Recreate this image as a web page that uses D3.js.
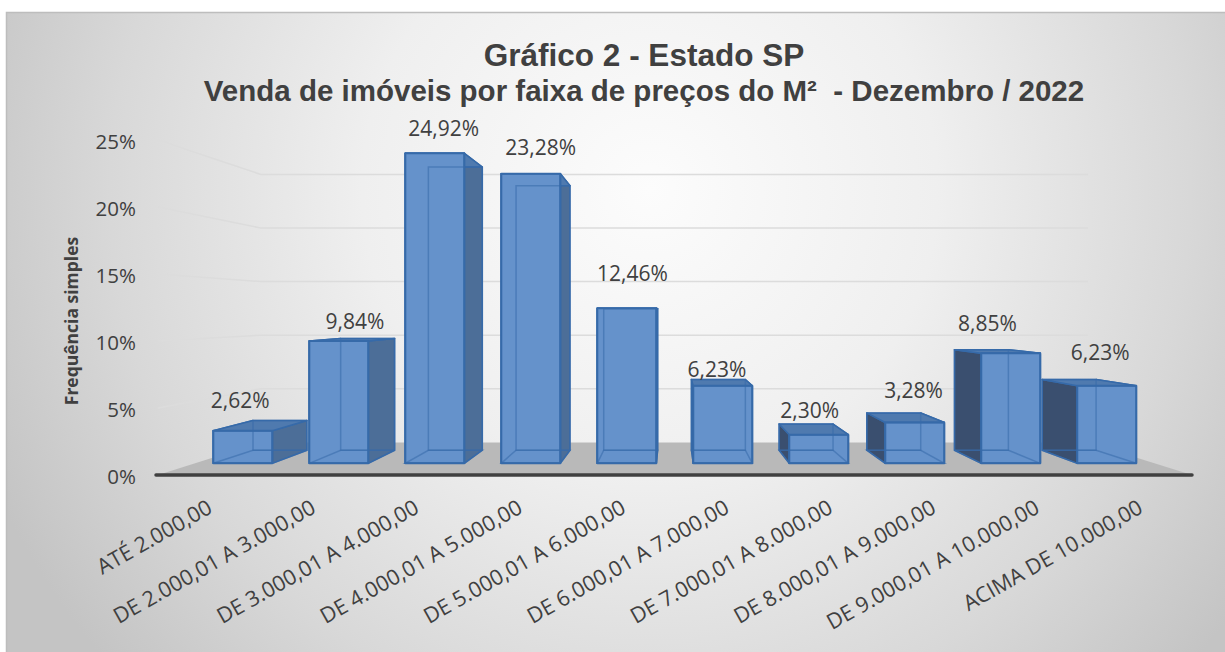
<!DOCTYPE html>
<html>
<head>
<meta charset="utf-8">
<script src="https://cdn.jsdelivr.net/npm/d3@7"></script>
<style>
  html, body { margin: 0; padding: 0; background: #ffffff; }
  svg { display: block; }
</style>
</head>
<body>
<div id="chart"></div>
<script>
const categories = [
  "ATÉ 2.000,00", "DE 2.000,01 A 3.000,00", "DE 3.000,01 A 4.000,00",
  "DE 4.000,01 A 5.000,00", "DE 5.000,01 A 6.000,00", "DE 6.000,01 A 7.000,00",
  "DE 7.000,01 A 8.000,00", "DE 8.000,01 A 9.000,00", "DE 9.000,01 A 10.000,00",
  "ACIMA DE 10.000,00"
];
const frequencies = [2.62, 9.84, 24.92, 23.28, 12.46, 6.23, 2.30, 3.28, 8.85, 6.23];
const yTicks = [0, 5, 10, 15, 20, 25];

const WIDTH = 1225;
const HEIGHT = 652;
const VANISH_X = 672;
const VANISH_Y = 312;
// how far each plane sits towards the vanishing point
const DEPTH_WALL = 0.2;
const DEPTH_BAR_FRONT = 0.0716;
const DEPTH_BAR_BACK = 0.152;

const FILL_BAR = "#6592cb";
const STROKE_BAR = "#366aa9";
const TEXT_COLOR = "#404040";
const FONT_BODY = "'Open Sans', sans-serif";
const FONT_TITLE = "'Liberation Sans', sans-serif";

// data labels were dragged by hand in the original, so each has its own nudge
const labelNudges = [
  [-20, 3], [3, 6], [0, -2], [5, -4], [5, -12], [-5, 13], [-4, 9], [8, 0], [-10, -4], [11, -4],
];

const x = d3.scaleBand().domain(categories).range([158, 1192]).paddingInner(0.385).paddingOuter(0.1925);
const y = d3.scaleLinear().domain([0, 25]).range([475, 140]);

function project(px, value, depth) {
  return [
    px + (VANISH_X - px) * depth,
    y(value) + (VANISH_Y - y(value)) * depth,
  ];
}

function pathOf(points) {
  return d3.line()(points) + "Z";
}

const svg = d3.select("#chart").append("svg").attr("width", WIDTH).attr("height", HEIGHT);
const defs = svg.append("defs");

const bgGradient = defs.append("radialGradient")
  .attr("id", "bg")
  .attr("gradientUnits", "userSpaceOnUse")
  .attr("cx", 650).attr("cy", 190).attr("r", 720);
bgGradient.append("stop").attr("offset", "0").attr("stop-color", "#fcfcfc");
bgGradient.append("stop").attr("offset", "0.4").attr("stop-color", "#efefef");
bgGradient.append("stop").attr("offset", "0.75").attr("stop-color", "#d8d8d8");
bgGradient.append("stop").attr("offset", "1").attr("stop-color", "#c4c4c4");

svg.append("rect")
  .attr("x", 6).attr("y", 12).attr("width", WIDTH - 6).attr("height", HEIGHT - 12)
  .attr("fill", "url(#bg)");
svg.append("path")
  .attr("d", `M6.5,${HEIGHT}V12.5H${WIDTH}`)
  .attr("fill", "none").attr("stroke", "#bdbdbd").attr("stroke-width", 1.5);

// floor
const [xLeft, xRight] = x.range();
svg.append("path")
  .attr("d", pathOf([
    project(xLeft, 0, 0), project(xRight, 0, 0),
    project(xRight, 0, DEPTH_WALL), project(xLeft, 0, DEPTH_WALL),
  ]))
  .attr("fill", "#b9b9b9");

// gridlines run along the side wall, then across the back wall
svg.append("g").selectAll("path")
  .data(yTicks.filter((tick) => tick > 0))
  .join("path")
  .attr("d", (tick) => d3.line()([
    project(xLeft, tick, 0), project(xLeft, tick, DEPTH_WALL), project(xRight, tick, DEPTH_WALL),
  ]))
  .attr("fill", "none")
  .attr("stroke", "#dcdcdc")
  .attr("stroke-width", 1.5);

function barFaces(category, value) {
  const left = x(category);
  const right = left + x.bandwidth();
  const f = DEPTH_BAR_FRONT;
  const b = DEPTH_BAR_BACK;
  return {
    back: [project(left, 0, b), project(right, 0, b), project(right, value, b), project(left, value, b)],
    left: [project(left, 0, f), project(left, value, f), project(left, value, b), project(left, 0, b)],
    right: [project(right, 0, f), project(right, value, f), project(right, value, b), project(right, 0, b)],
    top: [project(left, value, f), project(right, value, f), project(right, value, b), project(left, value, b)],
    floor: [project(left, 0, f), project(right, 0, f), project(right, 0, b), project(left, 0, b)],
    front: [project(left, 0, f), project(right, 0, f), project(right, value, f), project(left, value, f)],
  };
}

const barData = categories.map((category, index) => ({
  category,
  value: frequencies[index],
  nudge: labelNudges[index],
}));

const bars = svg.append("g").selectAll("g").data(barData).join("g");

// outer faces first, the front then hides whatever lies behind it
const solidFaces = [
  { key: "left", fill: "#3a4f6f" },
  { key: "right", fill: "#4c6e98" },
  { key: "top", fill: "#4f7aaf" },
  { key: "front", fill: FILL_BAR },
];

solidFaces.forEach((face) => {
  bars.append("path")
    .attr("d", (d) => pathOf(barFaces(d.category, d.value)[face.key]))
    .attr("fill", face.fill)
    .attr("stroke", STROKE_BAR)
    .attr("stroke-width", 1.5)
    .attr("stroke-linejoin", "round");
});

// the bars are see-through in the original: hidden edges still show on the front
["back", "floor"].forEach((key) => {
  bars.append("path")
    .attr("d", (d) => pathOf(barFaces(d.category, d.value)[key]))
    .attr("fill", "none")
    .attr("stroke", STROKE_BAR)
    .attr("stroke-opacity", 0.55)
    .attr("stroke-width", 1.5);
});

bars.append("path")
  .attr("d", (d) => pathOf(barFaces(d.category, d.value).front))
  .attr("fill", "none")
  .attr("stroke", STROKE_BAR)
  .attr("stroke-width", 2)
  .attr("stroke-linejoin", "round");

// axis baseline
svg.append("line")
  .attr("x1", xLeft - 2).attr("x2", xRight)
  .attr("y1", y(0)).attr("y2", y(0))
  .attr("stroke", "#404040")
  .attr("stroke-width", 3.5)
  .attr("stroke-linecap", "round");

// y tick labels
svg.append("g").selectAll("text")
  .data(yTicks)
  .join("text")
  .attr("x", 136)
  .attr("y", (tick) => y(tick) + 2)
  .attr("dy", "0.35em")
  .attr("text-anchor", "end")
  .attr("font-family", FONT_BODY)
  .attr("font-size", 20.5)
  .attr("fill", TEXT_COLOR)
  .text((tick) => `${tick}%`);

// value labels sit above the highest point of each bar
svg.append("g").selectAll("text")
  .data(barData)
  .join("text")
  .attr("x", (d) => {
    const faces = barFaces(d.category, d.value);
    const xs = [...faces.front, ...faces.back].map((p) => p[0]);
    return (d3.min(xs) + d3.max(xs)) / 2 + d.nudge[0];
  })
  .attr("y", (d) => {
    const faces = barFaces(d.category, d.value);
    return d3.min([...faces.front, ...faces.back], (p) => p[1]) - 15 + d.nudge[1];
  })
  .attr("text-anchor", "middle")
  .attr("font-family", FONT_BODY)
  .attr("font-size", 21)
  .attr("fill", TEXT_COLOR)
  .text((d) => `${d.value.toFixed(2).replace(".", ",")}%`);

// category labels
svg.append("g").selectAll("text")
  .data(categories)
  .join("text")
  .attr("transform", (category) => `translate(${x(category) + x.bandwidth() / 2 + 4},512) rotate(-29.5)`)
  .attr("text-anchor", "end")
  .attr("font-family", FONT_BODY)
  .attr("font-size", 21.5)
  .attr("fill", TEXT_COLOR)
  .text((category) => category);

svg.append("text")
  .attr("transform", "translate(78,321) rotate(-90)")
  .attr("text-anchor", "middle")
  .attr("font-family", FONT_BODY)
  .attr("font-size", 17.5)
  .attr("font-weight", 700)
  .attr("fill", TEXT_COLOR)
  .text("Frequência simples");

svg.append("text")
  .attr("x", 644).attr("y", 66)
  .attr("text-anchor", "middle")
  .attr("font-family", FONT_TITLE)
  .attr("font-size", 31.5)
  .attr("font-weight", 700)
  .attr("fill", TEXT_COLOR)
  .text("Gráfico 2 - Estado SP");

svg.append("text")
  .attr("x", 644).attr("y", 101)
  .attr("text-anchor", "middle")
  .attr("font-family", FONT_TITLE)
  .attr("font-size", 29.5)
  .attr("font-weight", 700)
  .attr("fill", TEXT_COLOR)
  .style("white-space", "pre")
  .text("Venda de imóveis por faixa de preços do M²  - Dezembro / 2022");
</script>
</body>
</html>
